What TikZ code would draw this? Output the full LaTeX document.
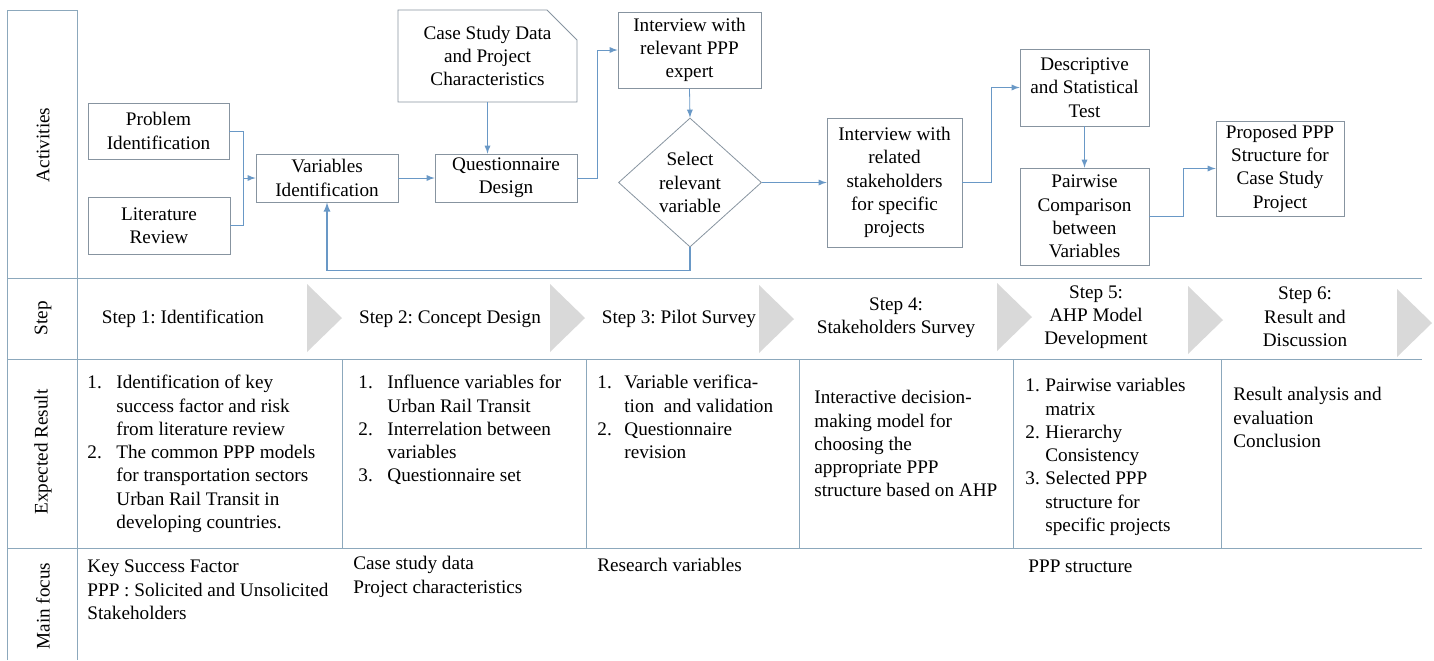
\documentclass[tikz,border=0pt]{standalone}
\usepackage{fontspec}
\setmainfont{Liberation Serif}
\usetikzlibrary{arrows,shapes.geometric,shapes.misc}
\definecolor{boxgray}{RGB}{135,148,160}
\definecolor{linkblue}{RGB}{105,152,198}
\definecolor{gridblue}{RGB}{140,168,188}
\definecolor{chevgray}{RGB}{217,217,217}
\tikzset{
  box/.style={draw=boxgray, align=center, inner sep=0pt},
  link/.style={linkblue},
  rowline/.style={gridblue},
  side/.style={rotate=90},
  cell/.style={anchor=north west, inner sep=0pt},
}
\frenchspacing

\begin{document}
\begin{tikzpicture}[x=0.5pt, y=-0.5pt, >=latex, font=\rmfamily\fontsize{9.6}{11.65}\selectfont]
        \useasboundingbox (0,0) rectangle (1434,660);

        % table lines
        \draw[rowline] (7,660) -- (7,10) -- (77,10) -- (77,660);
        \draw[rowline] (7,278) -- (1422,278);
        \draw[rowline] (7,359) -- (1422,359);
        \draw[rowline] (7,548) -- (1422,548);
        \foreach \x in {342,586,799,1013,1221}
            \draw[rowline] (\x,359) -- (\x,548);

        \node[side] (lblact) at (43,145) {Activities};
        \node[side] (lblstep) at (43,318) {Step};
        \node[side] (lblres) at (43,452) {Expected Result};
        \node[side] (lblfocus) at (43,606) {Main focus};

        % chevrons
        \foreach \x/\y in {307/318, 550/318, 759/319, 997/317, 1188/320, 1397/323}
            \fill[chevgray] (\x,\y-34) -- (\x+35,\y) -- (\x,\y+34) -- cycle;

        \node (step1) at (183,319) {Step 1: Identification};
        \node (step2) at (450,319) {Step 2: Concept Design};
        \node (step3) at (679,319) {Step 3: Pilot Survey};
        \node[align=center] (step4) at (896,318) {Step 4:\\Stakeholders Survey};
        \node[align=center] (step5) at (1096,317) {Step 5:\\AHP Model\\Development};
        \node[align=center] (step6) at (1305,317) {Step 6:\\Result and\\Discussion};

        % activities
        \node[box, minimum width=70.5pt, minimum height=28pt] (prob) at (158.5,131) {Problem\\Identification};
        \node[box, minimum width=71pt, minimum height=28.5pt] (lit) at (159,225.5) {Literature\\Review};
        \node[box, minimum width=71pt, minimum height=24pt] (varid) at (327,178) {Variables\\Identification};
        \node[box, chamfered rectangle, chamfered rectangle corners=north east,
              chamfered rectangle xsep=7.5pt, chamfered rectangle ysep=7.5pt,
              minimum width=89.5pt, minimum height=46pt] (casedata) at (487.5,56) {Case Study Data\\and Project\\Characteristics};
        \node[box, minimum width=71pt, minimum height=24pt] (quest) at (506,178) {Questionnaire\\Design};
        \node[box, minimum width=71.5pt, minimum height=38pt] (expert) at (689.5,50) {Interview with\\relevant PPP\\expert};
        \node[box, diamond, aspect=1.1, minimum width=71.5pt, minimum height=64.5pt] (select) at (690,182.5) {Select\\relevant\\variable};
        \node[box, minimum width=67.5pt, minimum height=64.5pt] (stake) at (894.5,182.5) {Interview with\\related\\stakeholders\\for specific\\projects};
        \node[box, minimum width=64.5pt, minimum height=38.5pt] (desc) at (1084.5,87.5) {Descriptive\\and Statistical\\Test};
        \node[box, minimum width=64.5pt, minimum height=48.5pt] (pair) at (1084.5,216.5) {Pairwise\\Comparison\\between\\Variables};
        \node[box, minimum width=64pt, minimum height=47.5pt] (prop) at (1280,168.5) {Proposed PPP\\Structure for\\Case Study\\Project};

        \coordinate (join) at (243,178);
        \draw[link] (prob.east) -| (join);
        \draw[link] (lit.east) -| (join);
        \draw[link,->] (join) -- (varid.west);
        \draw[link,->] (varid) -- (quest);
        \draw[link,->] (casedata.south) -- (casedata.south |- quest.north);
        \draw[link,->] (quest.east) -- ++(20,0) |- (expert.west);
        \draw[link,->] (expert.south) -- (select.north);
        \draw[link,->] (select) -- (stake);
        \draw[link,->, semithick] (select.south) -- ++(0,23) -| (varid.south);
        \draw[link,->] (stake.east) -- ++(29,0) |- (desc.west);
        \draw[link,->] (desc) -- (pair);
        \draw[link,->] (pair.east) -- ++(34,0) |- (prop.west);

        % expected results
        \node[cell] (res1) at (87,372) {\begin{tabular}{@{}p{14.5pt}@{}l@{}}
            1. & Identification of key\\ & success factor and risk\\ & from literature review\\
            2. & The common PPP models\\ & for transportation sectors\\ & Urban Rail Transit in\\ & developing countries.\end{tabular}};
        \node[cell] (res2) at (358,372) {\begin{tabular}{@{}p{14.5pt}@{}l@{}}
            1. & Influence variables for\\ & Urban Rail Transit\\
            2. & Interrelation between\\ & variables\\
            3. & Questionnaire set\end{tabular}};
        \node[cell] (res3) at (597,372) {\begin{tabular}{@{}p{13.5pt}@{}l@{}}
            1. & Variable verifica-\\ & tion\ \ and validation\\
            2. & Questionnaire\\ & revision\end{tabular}};
        \node[cell] (res4) at (814,387) {\begin{tabular}{@{}l@{}}
            Interactive decision-\\making model for\\choosing the\\appropriate PPP\\structure based on AHP\end{tabular}};
        \node[cell] (res5) at (1025,375) {\begin{tabular}{@{}p{10pt}@{}l@{}}
            1. & Pairwise variables\\ & matrix\\
            2. & Hierarchy\\ & Consistency\\
            3. & Selected PPP\\ & structure for\\ & specific projects\end{tabular}};
        \node[cell] (res6) at (1233,384) {\begin{tabular}{@{}l@{}}
            Result analysis and\\evaluation\\Conclusion\end{tabular}};

        % main focus
        \node[cell] (focus1) at (87,556) {\begin{tabular}{@{}l@{}}
            Key Success Factor\\PPP : Solicited and Unsolicited\\Stakeholders\end{tabular}};
        \node[cell] (focus2) at (353,553) {\begin{tabular}{@{}l@{}}
            Case study data\\Project characteristics\end{tabular}};
        \node[cell] (focus3) at (597,555) {\begin{tabular}{@{}l@{}}Research variables\end{tabular}};
        \node[cell] (focus5) at (1028,556) {\begin{tabular}{@{}l@{}}PPP structure\end{tabular}};
\end{tikzpicture}
\end{document}
